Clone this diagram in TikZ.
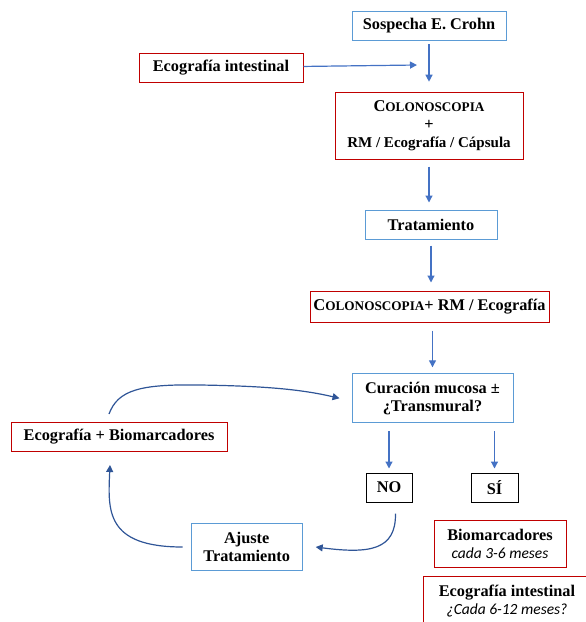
\documentclass[tikz,border=0pt]{standalone}
\usepackage{fontspec}
\setmainfont{Liberation Serif}
\newfontfamily\calfont{Carlito}
\usetikzlibrary{arrows.meta}
\definecolor{boxblue}{RGB}{91,155,213}
\definecolor{boxred}{RGB}{192,0,0}
\definecolor{arrblue}{RGB}{68,114,196}
\definecolor{curveblue}{RGB}{47,85,151}
\newcommand{\colono}{{\fontsize{16.5}{18}\selectfont C}{\fontsize{13.2}{18}\selectfont OLONOSCOPIA}}
\newcommand{\cadatxt}[1]{{\calfont\mdseries\itshape\fontsize{15.5}{18}\selectfont #1}}

\begin{document}
\begin{tikzpicture}[x=1pt,y=-1pt,
	bluebox/.style={draw=boxblue, line width=1pt, align=center, inner sep=1pt, font=\fontsize{16.3}{18}\selectfont\bfseries},
	redbox/.style={draw=boxred, line width=1pt, align=center, inner sep=1pt, font=\fontsize{16.3}{18}\selectfont\bfseries},
	blackbox/.style={draw=black, line width=1pt, align=center, inner sep=1pt, font=\fontsize{16.3}{18}\selectfont\bfseries},
	flow/.style={draw=arrblue, line width=1.2pt, -{Triangle[length=7pt,width=7pt]}},
	loopflow/.style={draw=curveblue, line width=1.2pt, -{Triangle[length=7pt,width=7pt]}}]
			\useasboundingbox (0,0) rectangle (586,622);
			\node	(sospecha) at (429,26) [bluebox, minimum width=154pt, minimum height=29pt] {Sospecha E. Crohn};
			\node	(ecoint) at (221,67.5) [redbox, minimum width=164pt, minimum height=29pt] {Ecografía intestinal};
			\coordinate (join) at (417,65);
			\node	(colono) at (429,125.7) [redbox, minimum width=188pt, minimum height=67pt] {\colono\\+\\{\fontsize{15}{18}\selectfont RM / Ecografía / Cápsula}};
			\node	(trat) at (431,224.5) [bluebox, minimum width=132pt, minimum height=29pt] {Tratamiento};
			\node	(colonorm) at (429.5,306.5) [redbox, minimum width=239pt, minimum height=31pt] {\colono+ RM / Ecografía};
			\node	(curacion) at (432.5,398.3) [bluebox, minimum width=161pt, minimum height=49pt] {Curación mucosa ±\\¿Transmural?};
			\node	(ecobio) at (119,437) [redbox, minimum width=216pt, minimum height=29pt] {Ecografía + Biomarcadores};
			\node	(no) at (389,487.5) [blackbox, minimum width=46pt, minimum height=29pt] {NO};
			\node	(si) at (494.5,487.5) [blackbox, minimum width=47pt, minimum height=29pt] {SÍ};
			\node	(ajuste) at (246.7,547) [bluebox, minimum width=111pt, minimum height=47pt] {Ajuste\\Tratamiento};
			\node	(biomarc) at (500,544.3) [redbox, minimum width=132pt, minimum height=47pt] {Biomarcadores\\\cadatxt{cada 3-6 meses}};
			\node	(ecoseg) at (507,601.5) [redbox, minimum width=168pt, minimum height=50pt] {Ecografía intestinal\\\cadatxt{¿Cada 6-12 meses?}};
			
			\draw 
			(ecoint) edge[flow] (join)
			(sospecha) edge[flow, shorten <=3pt, shorten >=10pt] (colono)
			(colono.south) edge[flow, shorten <=7pt, shorten >=7pt] (colono.south |- trat.north)
			(trat.south) edge[flow, shorten <=6pt, shorten >=8pt] (trat.south |- colonorm.north)
			(colonorm.south -| curacion.north) edge[flow, shorten <=8pt, shorten >=6pt] (curacion.north)
			(curacion.south -| no.north) edge[flow, shorten <=8pt, shorten >=4pt] (no.north)
			(curacion.south -| si.north) edge[flow, shorten <=8pt, shorten >=4pt] (si.north)
			;
			\draw[loopflow] ([xshift=-10pt]ecobio.north) ++(0,-8) .. controls (118,390) and (140,384) .. (200,385) .. controls (262,386) and (300,389) .. ([xshift=-12pt]curacion.west);
			\draw[loopflow] ([xshift=-8pt]ajuste.west) .. controls (105,547) and (108,510) .. ([xshift=-9pt,yshift=-13pt]ecobio.south);
			\draw[loopflow] ([xshift=6.5pt,yshift=-11pt]no.south) .. controls (396,550) and (370,554) .. ([xshift=13pt]ajuste.east);
		\end{tikzpicture}
\end{document}
